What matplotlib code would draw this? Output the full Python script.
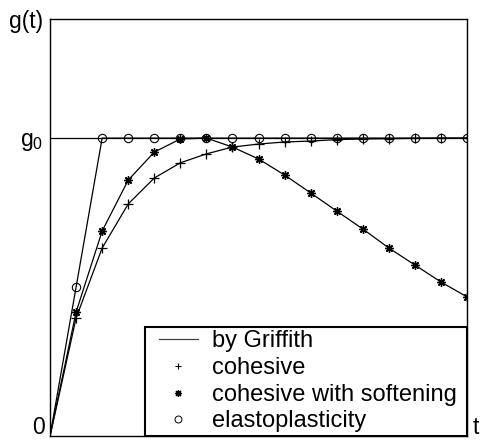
### g(t) curves: Griffith, cohesive, cohesive with softening, elastoplasticity
import numpy as np
import matplotlib.pyplot as plt
from matplotlib.legend_handler import HandlerLine2D

### Data
t = [0, 1, 2, 3, 4, 5, 6, 7, 8, 9, 10, 11, 12, 13, 14, 15, 16]
g0 = 1.0

griffith_t = [0, 16]
griffith_g = [g0, g0]

cohesive = [0, 0.396, 0.631, 0.779, 0.866, 0.917, 0.947, 0.970, 0.980,
            0.987, 0.990, 0.995, 0.997, 0.998, 0.999, 1.0, 1.0]
softening = [0, 0.416, 0.688, 0.859, 0.953, 0.997, 1.0, 0.970, 0.930,
             0.876, 0.816, 0.755, 0.695, 0.631, 0.574, 0.517, 0.467]
elasto = [0, 0.5, 1.0, 1.0, 1.0, 1.0, 1.0, 1.0, 1.0,
          1.0, 1.0, 1.0, 1.0, 1.0, 1.0, 1.0, 1.0]

ytick_pos = [0, g0, 1.4]
ytick_lbl = ['', r'g$_0$', 'g(t)']


class ShortLine(HandlerLine2D):
    ''' legend line a bit shorter than the handle box, centred '''
    def create_artists(self, legend, orig_handle, xdescent, ydescent,
                       width, height, fontsize, trans):
        pad = 0.17 * width
        return super().create_artists(legend, orig_handle, xdescent - pad, ydescent,
                                      width - 2 * pad, height, fontsize, trans)


plt.rcParams['font.family'] = ['Liberation Sans', 'DejaVu Sans']
plt.rcParams['mathtext.fontset'] = 'custom'
plt.rcParams['mathtext.rm'] = 'Liberation Sans'
plt.rcParams['mathtext.it'] = 'Liberation Sans'

fig = plt.figure(figsize=(4.81, 4.4), dpi=100)
ax = fig.add_axes([0.104, 0.009, 0.867, 0.948])

lw = 0.9
star = (8, 2, 0)   # asterisk marker
# curves
ax.plot(griffith_t, griffith_g, color='black', lw=lw)
ax.plot(t, cohesive, color='black', lw=lw)
ax.plot(t, softening, color='black', lw=lw)
ax.plot(t, elasto, color='black', lw=lw)

# markers (skip t=0)
ax.plot(t[1:], cohesive[1:], ls='none', marker='+', ms=7, mew=0.9, color='black')
ax.plot(t[1:], softening[1:], ls='none', marker=star, ms=6, mew=1.0, color='black')
ax.plot(t[1:], elasto[1:], ls='none', marker='o', ms=6, mew=0.8,
        mfc='none', mec='black')

# legend proxies
griff_h, = ax.plot([], [], color='#444444', lw=lw, label='by Griffith')
ax.plot([], [], ls='none', marker='+', ms=5, mew=0.8, color='black', label='cohesive')
ax.plot([], [], ls='none', marker=star, ms=5, mew=0.9, color='black',
        label='cohesive with softening')
ax.plot([], [], ls='none', marker='o', ms=5, mew=0.7, mfc='none', mec='black',
        label='elastoplasticity')

leg = ax.legend(loc='lower left', bbox_to_anchor=(0.228, 0.0, 0.772, 0.3),
                mode='expand', borderaxespad=0, fontsize=17, fancybox=False,
                framealpha=1, edgecolor='black', handlelength=2.5,
                handletextpad=0.2, labelspacing=0.2, borderpad=0.15,
                handler_map={griff_h: ShortLine()})
leg.get_frame().set_linewidth(1.5)

ax.set_xlim(0, 16)
ax.set_ylim(0, 1.4)
ax.set_xticks([])
ax.set_yticks(ytick_pos)
ax.set_yticklabels(ytick_lbl, fontsize=16.5)
ax.tick_params(axis='y', length=0, pad=5)
for s in ax.spines.values():
    s.set_linewidth(1.0)

# "0" at the origin and "t" at the end of the time axis, kept inside the image
ax.annotate('0', xy=(0, 0), xycoords='axes fraction', xytext=(-5, -3),
            textcoords='offset pixels', fontsize=16.5, ha='right', va='bottom')
ax.annotate('t', xy=(1, 0), xycoords='axes fraction', xytext=(6, -3),
            textcoords='offset pixels', fontsize=16.5, ha='left', va='bottom')

fig.savefig('out.png', dpi=100)
